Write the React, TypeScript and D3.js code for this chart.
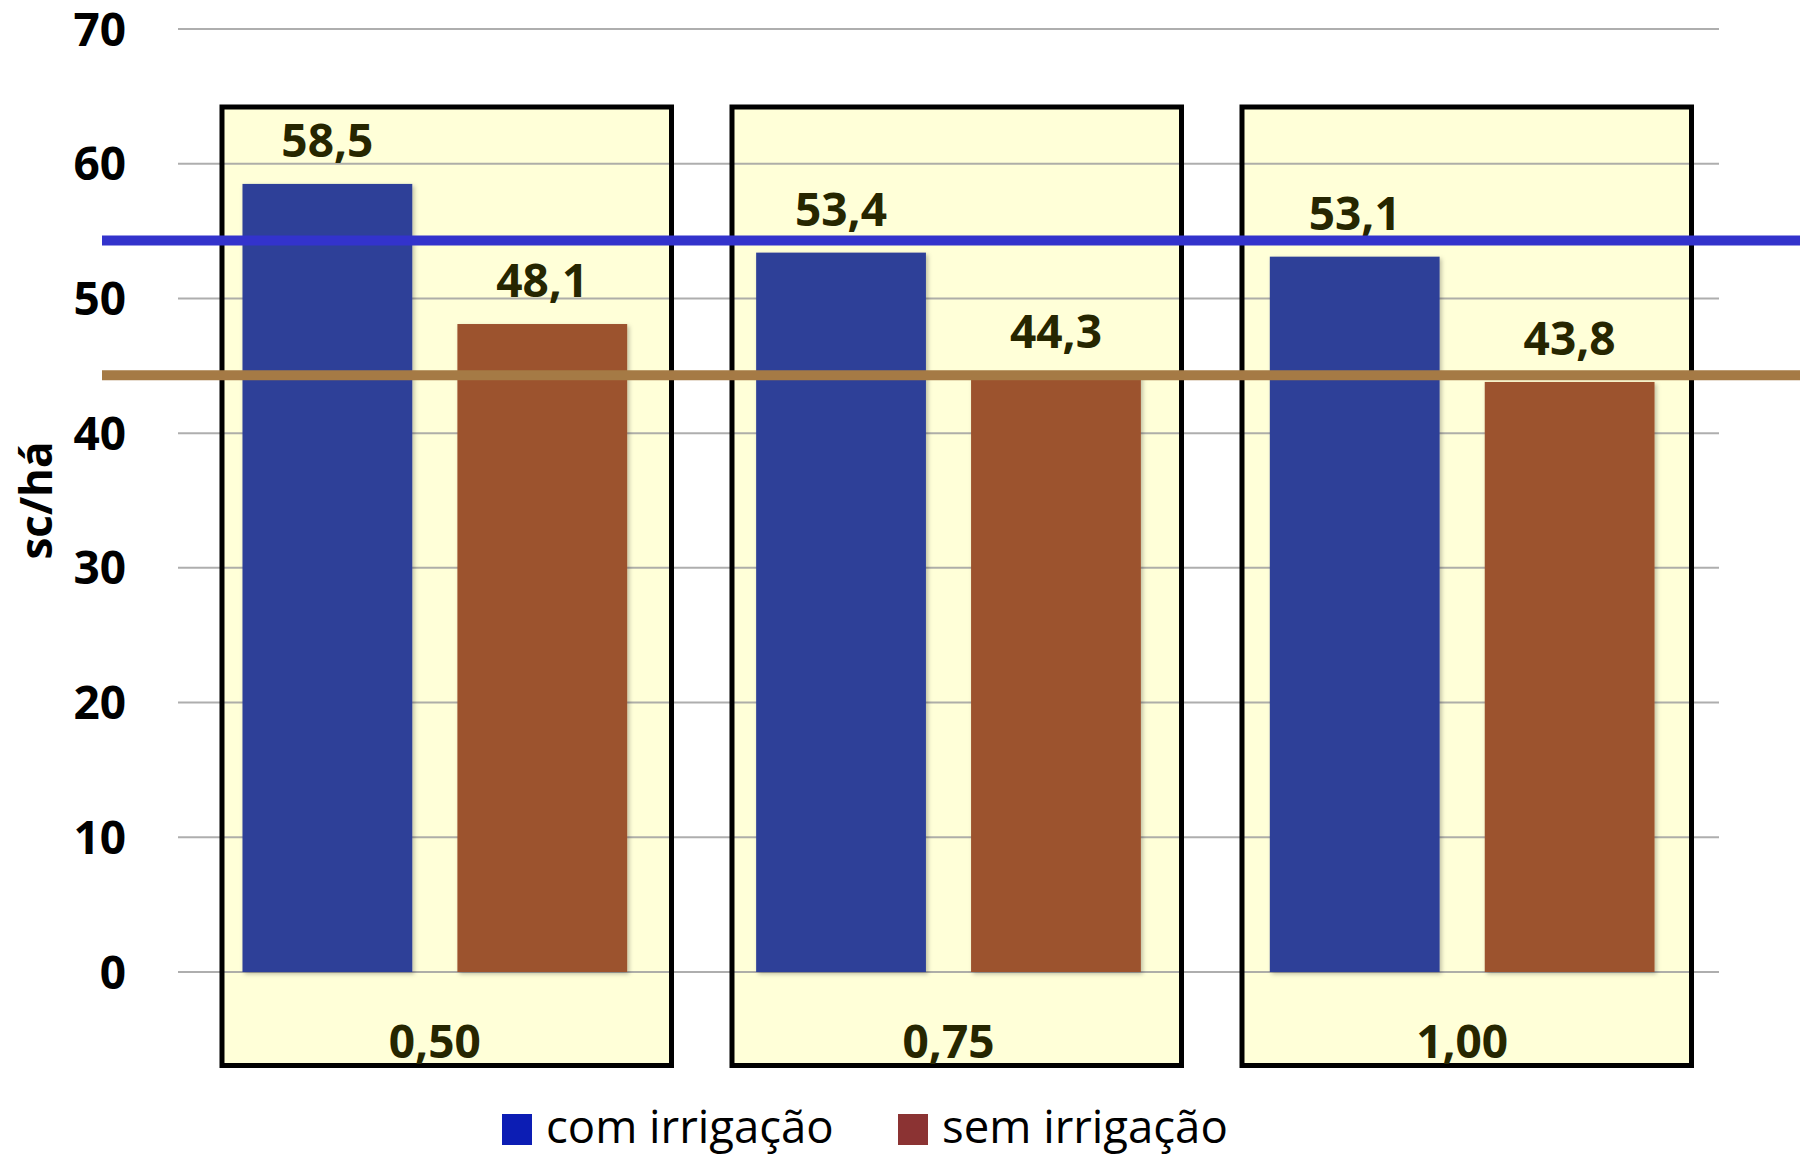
import React from "react";
import { scaleBand, scaleLinear } from "d3";

// doses (category labels on the x axis)
const doses = ["0,50", "0,75", "1,00"];
const series = ["com irrigação", "sem irrigação"];
const comIrrigacao = [58.5, 53.4, 53.1];
const semIrrigacao = [48.1, 44.3, 43.8];
// horizontal reference lines (sc/há)
const refCom = 54.3;
const refSem = 44.3;
const yTicks = [0, 10, 20, 30, 40, 50, 60, 70];

const W = 1800;
const H = 1154;
const margin = { top: 29, right: 81, bottom: 182, left: 178 };

const colors = {
  com: "#2E3F98",
  sem: "#9C522D",
  refCom: "#3333CC",
  refSem: "#A57A45",
  legendCom: "#0C1DB4",
  legendSem: "#8B3333",
  box: "#FFFFD8",
  grid: "#A0A0A0",
  label: "#262600",
};

const fmt = (v: number) => v.toFixed(1).replace(".", ",");

export default function App() {
  const x = scaleBand<string>()
    .domain(doses)
    .range([margin.left, W - margin.right])
    .paddingInner(0)
    .paddingOuter(0);

  const xSub = scaleBand<string>()
    .domain(series)
    .range([0, x.bandwidth()])
    .paddingInner(0.21)
    .paddingOuter(0.3);

  // framed boxes around each dose group (drawn shapes, slightly off the bands)
  const xBox = scaleBand<string>()
    .domain(doses)
    .range([191.75, 1721.75])
    .paddingInner(0.1186)
    .paddingOuter(0.0593);

  const y = scaleLinear().domain([0, 70]).range([H - margin.bottom, margin.top]);

  const values = [comIrrigacao, semIrrigacao];
  const barColors = [colors.com, colors.sem];

  const boxTop = 107;
  const boxBottom = 1065.5;

  const font = "'Open Sans', sans-serif";

  return (
    <svg
      width={W}
      height={H}
      style={{ position: "absolute", left: 0, top: 0, background: "#fff" }}
      fontFamily={font}
    >
      <defs>
        <filter id="barShadow" x="-10%" y="-10%" width="130%" height="130%">
          <feDropShadow dx="2" dy="2" stdDeviation="2" floodColor="#000" floodOpacity="0.25" />
        </filter>
      </defs>

      {/* box fills */}
      {doses.map((d) => (
        <rect
          key={"fill" + d}
          x={xBox(d)}
          y={boxTop}
          width={xBox.bandwidth()}
          height={boxBottom - boxTop}
          fill={colors.box}
        />
      ))}

      {/* grid lines */}
      {yTicks.map((t) => (
        <line
          key={t}
          x1={margin.left}
          x2={W - margin.right}
          y1={y(t)}
          y2={y(t)}
          stroke={colors.grid}
          strokeWidth={2}
          strokeOpacity={0.85}
        />
      ))}

      {/* y tick labels */}
      {yTicks.map((t) => (
        <text
          key={"t" + t}
          x={126}
          y={y(t)}
          dy="0.36em"
          textAnchor="end"
          fontSize={46}
          fontWeight="bold"
          fill="#000"
        >
          {t}
        </text>
      ))}

      {/* bars */}
      {doses.map((d, i) => (
        <g key={"g" + d} transform={`translate(${x(d)},0)`}>
          {series.map((s, j) => (
            <rect
              key={s}
              x={xSub(s)}
              y={y(values[j][i])}
              width={xSub.bandwidth()}
              height={y(0) - y(values[j][i])}
              fill={barColors[j]}
              filter="url(#barShadow)"
            />
          ))}
        </g>
      ))}

      {/* box borders */}
      {doses.map((d) => (
        <rect
          key={"border" + d}
          x={xBox(d)}
          y={boxTop}
          width={xBox.bandwidth()}
          height={boxBottom - boxTop}
          fill="none"
          stroke="#000"
          strokeWidth={5}
        />
      ))}

      {/* value labels */}
      {doses.map((d, i) =>
        series.map((s, j) => (
          <text
            key={"v" + d + s}
            x={(x(d) ?? 0) + (xSub(s) ?? 0) + xSub.bandwidth() / 2}
            y={y(values[j][i]) - 27}
            textAnchor="middle"
            fontSize={46}
            fontWeight="bold"
            fill={colors.label}
          >
            {fmt(values[j][i])}
          </text>
        ))
      )}

      {/* category labels */}
      {doses.map((d) => (
        <text
          key={"c" + d}
          x={(x(d) ?? 0) + x.bandwidth() / 2}
          y={1058}
          textAnchor="middle"
          fontSize={46}
          fontWeight="bold"
          fill={colors.label}
        >
          {d}
        </text>
      ))}

      {/* reference lines */}
      <line x1={102} x2={W} y1={y(refCom)} y2={y(refCom)} stroke={colors.refCom} strokeWidth={10} />
      <line x1={102} x2={W} y1={y(refSem)} y2={y(refSem)} stroke={colors.refSem} strokeWidth={10} />

      {/* y axis title */}
      <text
        transform={`translate(52,${(y(0) + y(70)) / 2}) rotate(-90)`}
        textAnchor="middle"
        fontSize={44}
        fontWeight="bold"
        fill="#000"
      >
        sc/há
      </text>

      {/* legend */}
      {series.map((s, j) => {
        const lx = j === 0 ? 502 : 898;
        return (
          <g key={"l" + s} transform={`translate(${lx},1114)`}>
            <rect width={30} height={31} fill={j === 0 ? colors.legendCom : colors.legendSem} />
            <text x={44} y={29} fontSize={45.5} fill="#000">
              {s}
            </text>
          </g>
        );
      })}
    </svg>
  );
}
